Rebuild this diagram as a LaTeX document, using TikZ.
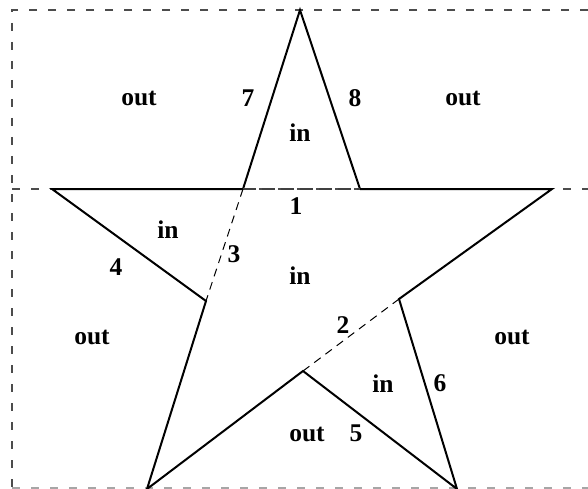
\documentclass[tikz,border=0pt]{standalone}
\usepackage{fontspec}
\setmainfont{Liberation Serif}
\begin{document}
\begin{tikzpicture}[x=1pt,y=-1pt,
  lbl/.style={inner sep=0pt,font=\fontsize{25.5}{28}\selectfont\bfseries},
  border/.style={draw=black!70,line width=1.2pt,dash pattern=on 8pt off 11pt},
  edge/.style={draw=black,line width=2pt,line join=miter},
  cut/.style={draw=black,line width=1pt,dash pattern=on 8pt off 6pt}]
\useasboundingbox (0,0) rectangle (588,489);
% frame
\coordinate (tl) at (12,10);
\coordinate (tr) at (588,10);
\coordinate (ml) at (12,189);
\coordinate (mr) at (588,189);
\coordinate (bl) at (12,488);
\coordinate (br) at (588,488);
\draw[border] (tr) -- (tl) -- (bl);
\draw[border] (ml) -- (mr);
\draw[border,draw=black!35] (bl) -- (br);
% star vertices
\coordinate (T) at (300,10);
\coordinate (L) at (52,189);
\coordinate (R) at (552,189);
\coordinate (BL) at (147,489);
\coordinate (BR) at (457,489);
\coordinate (A) at (243,189);
\coordinate (B) at (360,189);
\coordinate (C) at (206,301);
\coordinate (D) at (399,299);
\coordinate (E) at (303,371);
% solid edges
\draw[edge] (A) -- (T) -- (B);
\draw[edge] (B) -- (R) -- (D) -- (BR) -- (E) -- (BL) -- (C) -- (L) -- (A);
% dashed cuts
\draw[cut,draw=black!75,line width=1.3pt,dash pattern=on 13pt off 6pt] (A) -- (B);
\draw[cut] (D) -- (E);
\draw[cut] (A) -- (C);
% labels
\node[lbl] (o1) at (139,98) {out};
\node[lbl] (n7) at (248,98) {7};
\node[lbl] (n8) at (355,98) {8};
\node[lbl] (o2) at (463,98) {out};
\node[lbl] (i1) at (300,133) {in};
\node[lbl] (n1) at (296,206) {1};
\node[lbl] (i2) at (168,230) {in};
\node[lbl] (n3) at (234,254) {3};
\node[lbl] (n4) at (116,267) {4};
\node[lbl] (i3) at (300,276) {in};
\node[lbl] (o3) at (92,337) {out};
\node[lbl] (n2) at (343,325) {2};
\node[lbl] (o4) at (512,337) {out};
\node[lbl] (i4) at (383,384) {in};
\node[lbl] (n6) at (440,383) {6};
\node[lbl] (o5) at (307,434) {out};
\node[lbl] (n5) at (356,433) {5};
\end{tikzpicture}
\end{document}
